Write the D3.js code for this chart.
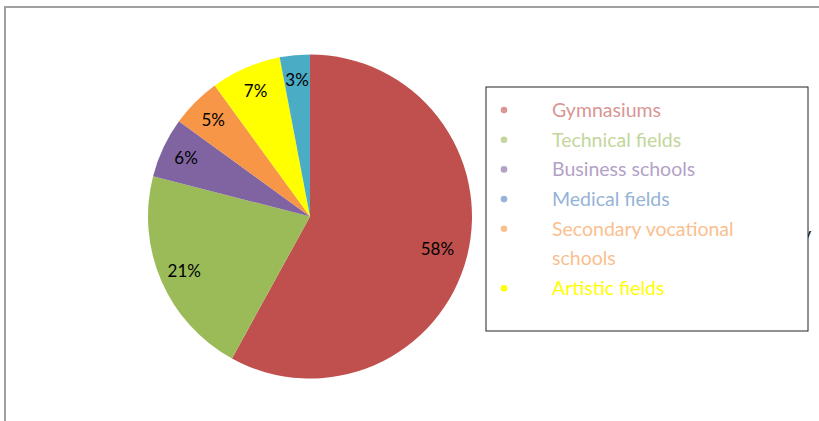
<!DOCTYPE html>
<html>
<head>
<meta charset="utf-8">
<script src="https://cdn.jsdelivr.net/npm/d3@7"></script>
<style>
  body { margin: 0; background: #fff; }
  svg { display: block; }
  text { font-family: Lato, "Open Sans", sans-serif; }
</style>
</head>
<body>
<svg width="819" height="421"></svg>
<script>
// slices, clockwise from 12 o'clock
const categories = ["Gymnasiums", "Technical fields", "Business schools", "Secondary vocational schools", "Artistic fields", "Medical fields"];
const values = [58, 21, 6, 5, 7, 3];
const sliceColors = ["#C0504D", "#9BBB59", "#8064A2", "#F79646", "#FFFF00", "#4BACC6"];

// legend, as it is listed in the box
const legendItems = ["Gymnasiums", "Technical fields", "Business schools", "Medical fields", "Secondary vocational schools", "Artistic fields"];
const legendColors = ["#D99694", "#C3D69B", "#B3A2C7", "#95B3D7", "#FAC090", "#FFFF00"];

const svg = d3.select("svg"),
    width = +svg.attr("width"),
    height = +svg.attr("height");

// outer frame
svg.append("rect")
    .attr("x", 5).attr("y", 7)
    .attr("width", width + 10).attr("height", height + 10)
    .attr("fill", "none")
    .attr("stroke", "#a0a0a0")
    .attr("stroke-width", 2);

const cx = 310, cy = 216.5, radius = 162;

const data = categories.map((c, i) => ({ name: c, value: values[i], color: sliceColors[i] }));

const pie = d3.pie().sort(null).value(d => d.value);
const arc = d3.arc().innerRadius(0).outerRadius(radius);
const labelArc = d3.arc().innerRadius(137).outerRadius(137);

const g = svg.append("g").attr("transform", `translate(${cx},${cy})`);

const arcs = pie(data);

g.selectAll("path")
    .data(arcs)
    .enter().append("path")
    .attr("d", arc)
    .attr("fill", d => d.data.color);

g.selectAll("text")
    .data(arcs)
    .enter().append("text")
    .attr("transform", d => {
        const p = labelArc.centroid(d);
        if (d.data.name === "Gymnasiums") { p[0] *= 0.96; p[1] *= 0.96; }
        return `translate(${p})`;
    })
    .attr("text-anchor", "middle")
    .attr("dy", "0.36em")
    .attr("font-size", 17)
    .attr("fill", "#000")
    .text(d => d.value + "%");

// stray glyph peeking out behind the legend box
svg.append("text")
    .attr("x", 802).attr("y", 240)
    .attr("font-size", 18)
    .attr("fill", "#111")
    .text("y");

// legend box
const lx = 486, ly = 87, lw = 322, lh = 244;
svg.append("rect")
    .attr("x", lx).attr("y", ly)
    .attr("width", lw).attr("height", lh)
    .attr("fill", "#fff")
    .attr("stroke", "#222")
    .attr("stroke-width", 1);

const rowH = 29.7;
const lines = [];
legendItems.forEach((name, i) => {
    if (name === "Secondary vocational schools") {
        lines.push({ text: "Secondary vocational", color: legendColors[i], bullet: true });
        lines.push({ text: "schools", color: legendColors[i], bullet: false });
    } else {
        lines.push({ text: name, color: legendColors[i], bullet: true });
    }
});

const legend = svg.append("g");
const row = legend.selectAll("g")
    .data(lines)
    .enter().append("g")
    .attr("transform", (d, i) => `translate(0,${110 + i * rowH})`);

row.filter(d => d.bullet).append("circle")
    .attr("cx", 504)
    .attr("cy", 0)
    .attr("r", 3.3)
    .attr("fill", d => d.color);

row.append("text")
    .attr("x", 552)
    .attr("dy", "0.35em")
    .attr("font-size", 19.5)
    .attr("fill", d => d.color)
    .text(d => d.text);
</script>
</body>
</html>
